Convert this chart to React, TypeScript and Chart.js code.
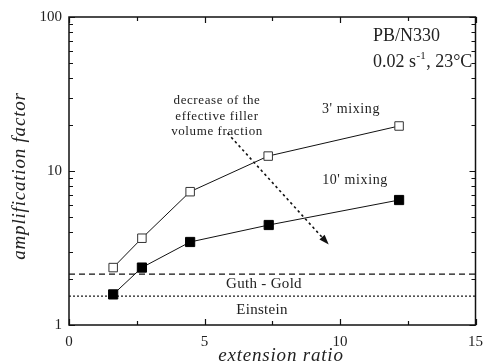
import React, { useEffect, useRef } from "react";
import { Chart, registerables } from "chart.js";

Chart.register(...registerables);

const extension3 = [1.63, 2.69, 4.47, 7.35, 12.18];
const amp3 = [2.36, 3.66, 7.34, 12.5, 19.6];
const extension10 = [1.63, 2.69, 4.47, 7.37, 12.18];
const amp10 = [1.58, 2.36, 3.46, 4.46, 6.48];
const guthGold = 2.14;
const einstein = 1.54;
const arrowX = [5.85, 9.51];
const arrowY = [17.6, 3.44];
const xMajorTicks = [0, 5, 10, 15];
const xMinorTicks = [2.5, 7.5, 12.5];
const yMajorTicks = [1, 10, 100];

const SERIF = "'Liberation Serif', 'DejaVu Serif', serif";

const overlay = {
  id: "overlay",
  afterDraw(chart: any) {
    const ctx = chart.ctx;
    const xs = chart.scales.x;
    const ys = chart.scales.y;
    const { left, right, top, bottom } = chart.chartArea;
    ctx.save();
    ctx.strokeStyle = "#111";
    ctx.lineWidth = 1.5;
    ctx.strokeRect(left, top, right - left, bottom - top);
    ctx.lineWidth = 1.2;
    // x ticks (inside, top and bottom)
    const drawX = (v: number, len: number) => {
      const px = Math.round(xs.getPixelForValue(v)) + 0.5;
      ctx.beginPath();
      ctx.moveTo(px, bottom);
      ctx.lineTo(px, bottom - len);
      ctx.moveTo(px, top);
      ctx.lineTo(px, top + len);
      ctx.stroke();
    };
    xMajorTicks.forEach((v) => drawX(v, 6));
    xMinorTicks.forEach((v) => drawX(v, 4));
    const drawY = (v: number, len: number) => {
      const py = Math.round(ys.getPixelForValue(v)) + 0.5;
      ctx.beginPath();
      ctx.moveTo(left, py);
      ctx.lineTo(left + len, py);
      ctx.moveTo(right, py);
      ctx.lineTo(right - len, py);
      ctx.stroke();
    };
    for (let d = 1; d < 100; d *= 10) {
      for (let m = 2; m <= 9; m++) drawY(m * d, 4);
    }
    yMajorTicks.forEach((v) => drawY(v, 6));

    // arrow head
    const x1 = xs.getPixelForValue(arrowX[0]);
    const y1 = ys.getPixelForValue(arrowY[0]);
    const x2 = xs.getPixelForValue(arrowX[1]);
    const y2 = ys.getPixelForValue(arrowY[1]);
    const ang = Math.atan2(y2 - y1, x2 - x1);
    ctx.fillStyle = "#111";
    ctx.beginPath();
    ctx.moveTo(x2 + 3 * Math.cos(ang), y2 + 3 * Math.sin(ang));
    ctx.lineTo(x2 - 7 * Math.cos(ang) + 3.5 * Math.sin(ang), y2 - 7 * Math.sin(ang) - 3.5 * Math.cos(ang));
    ctx.lineTo(x2 - 7 * Math.cos(ang) - 3.5 * Math.sin(ang), y2 - 7 * Math.sin(ang) + 3.5 * Math.cos(ang));
    ctx.closePath();
    ctx.fill();

    // texts
    ctx.fillStyle = "#222";
    ctx.textBaseline = "alphabetic";
    ctx.textAlign = "left";
    ctx.font = `18px ${SERIF}`;
    ctx.fillText("PB/N330", 373, 41);
    ctx.fillText("0.02 s", 373, 67);
    let w = ctx.measureText("0.02 s").width;
    ctx.font = `11px ${SERIF}`;
    ctx.fillText("-1", 373 + w + 0.5, 59);
    const w2 = ctx.measureText("-1").width;
    ctx.font = `18px ${SERIF}`;
    ctx.fillText(", 23°C", 373 + w + w2 + 1, 67);

    ctx.textAlign = "center";
    (ctx as any).letterSpacing = "0.6px";
    ctx.font = `14px ${SERIF}`;
    ctx.fillText("3' mixing", 351, 113);
    ctx.fillText("10' mixing", 355, 184);
    ctx.font = `13px ${SERIF}`;
    ctx.fillText("decrease of the", 217, 104);
    ctx.fillText("effective filler", 217, 120);
    ctx.fillText("volume fraction", 217, 135);
    (ctx as any).letterSpacing = "0.3px";
    ctx.font = `15px ${SERIF}`;
    ctx.fillText("Guth - Gold", 264, 288);
    ctx.fillText("Einstein", 262, 314);

    // axis titles
    (ctx as any).letterSpacing = "0.8px";
    ctx.font = `italic 19px ${SERIF}`;
    ctx.textBaseline = "middle";
    ctx.fillText("extension ratio", 281, 356);
    ctx.save();
    ctx.translate(20, 176);
    ctx.rotate(-Math.PI / 2);
    ctx.fillText("amplification factor", 0, 0);
    ctx.restore();
    ctx.restore();
  },
};

export default function App() {
  const ref = useRef<HTMLCanvasElement>(null);
  useEffect(() => {
    const toPts = (xs: number[], ys: number[]) => xs.map((x, i) => ({ x, y: ys[i] }));
    const chart = new Chart(ref.current!, {
      type: "scatter",
      data: {
        datasets: [
          {
            data: toPts(extension3, amp3),
            showLine: true,
            borderColor: "#111",
            borderWidth: 1,
            pointStyle: "rect",
            pointRadius: 6,
            pointBorderWidth: 1,
            pointBorderColor: "#333",
            pointBackgroundColor: "#fff",
          },
          {
            data: toPts(extension10, amp10),
            showLine: true,
            borderColor: "#111",
            borderWidth: 1,
            pointStyle: "rect",
            pointRadius: 6.5,
            pointBorderWidth: 1,
            pointBorderColor: "#000",
            pointBackgroundColor: "#000",
          },
          {
            data: [{ x: 0, y: guthGold }, { x: 15, y: guthGold }],
            showLine: true,
            borderColor: "#111",
            borderWidth: 1.2,
            borderDash: [6, 4],
            pointRadius: 0,
          },
          {
            data: [{ x: 0, y: einstein }, { x: 15, y: einstein }],
            showLine: true,
            borderColor: "#111",
            borderWidth: 1.2,
            borderDash: [2, 2],
            pointRadius: 0,
          },
          {
            data: toPts(arrowX, arrowY),
            showLine: true,
            borderColor: "#111",
            borderWidth: 1.6,
            borderDash: [2.5, 3],
            pointRadius: 0,
          },
        ],
      },
      options: {
        animation: false,
        responsive: false,
        maintainAspectRatio: false,
        layout: { padding: { top: 17, right: 5, left: 0, bottom: 0 } },
        plugins: { legend: { display: false }, tooltip: { enabled: false } },
        scales: {
          x: {
            type: "linear",
            min: 0,
            max: 15,
            grid: { display: false, drawTicks: false },
            border: { display: false },
            ticks: {
              stepSize: 5,
              padding: 8,
              color: "#222",
              font: { family: SERIF, size: 15 },
              maxRotation: 0,
            },
            afterFit: (s: any) => {
              s.height = 39;
            },
          },
          y: {
            type: "logarithmic",
            min: 1,
            max: 100,
            grid: { display: false, drawTicks: false },
            border: { display: false },
            ticks: {
              padding: 7,
              color: "#222",
              font: { family: SERIF, size: 15 },
              autoSkip: false,
              callback: (v: any) => (yMajorTicks.includes(Number(v)) ? String(v) : ""),
            },
            afterFit: (s: any) => {
              s.width = 69;
            },
          },
        },
      },
      plugins: [overlay],
    });
    return () => chart.destroy();
  }, []);
  return (
    <div style={{ position: "fixed", left: 0, top: 0, width: 491, height: 364, background: "#fff" }}>
      <canvas ref={ref} width={491} height={364} style={{ display: "block" }} />
    </div>
  );
}
